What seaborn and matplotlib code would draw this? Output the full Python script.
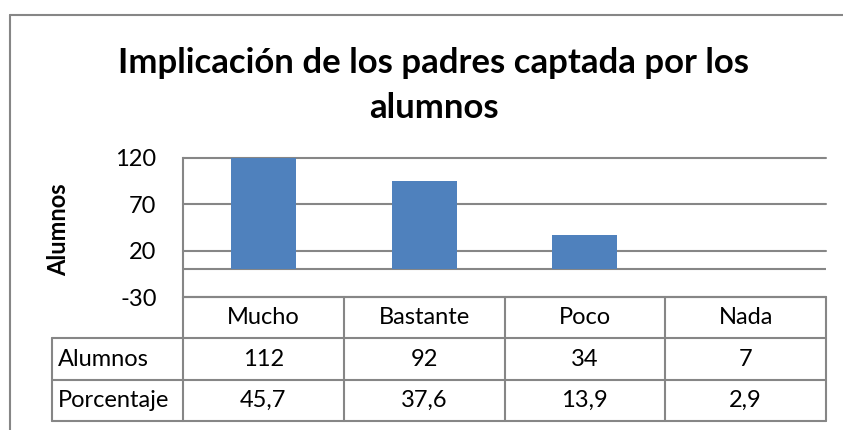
import pandas as pd
import seaborn as sns
import matplotlib.pyplot as plt
from matplotlib.lines import Line2D

categorias = ['Mucho', 'Bastante', 'Poco', 'Nada']
alumnos = [112, 92, 34, 7]
porcentaje = [45.7, 37.6, 13.9, 2.9]
# bar heights as they are drawn in the picture (top one runs past the axis max)
barras = [120, 95, 37, 0]
yticks = [-30, 20, 70, 120]
titulo = ['Implicación de los padres captada por los', 'alumnos']

W, H = 843, 430
gris = '#868686'
azul = '#4F81BD'
fs = 17

sns.set_theme(style='white')
plt.rcParams['font.family'] = ['Lato', 'DejaVu Sans']


def caja(x0, y0, x1, y1):
    # pixel box (top-left origin) -> figure fraction
    return [x0 / W, 1 - y1 / H, (x1 - x0) / W, (y1 - y0) / H]


fig = plt.figure(figsize=(W / 100, H / 100), dpi=100)

# chart area border (runs off the right and bottom of the picture)
fig.add_artist(Line2D([10 / W, 10 / W], [0, 1 - 15 / H], color=gris, lw=1.5))
fig.add_artist(Line2D([10 / W, 1], [1 - 15 / H, 1 - 15 / H], color=gris, lw=1.5))

fig.text(434 / W, 1 - 73 / H, titulo[0], ha='center', va='baseline',
         fontsize=25, fontweight='bold', color='black')
fig.text(434 / W, 1 - 118 / H, titulo[1], ha='center', va='baseline',
         fontsize=25, fontweight='bold', color='black')

# bars
ax = fig.add_axes(caja(183, 158, 826, 297))
df = pd.DataFrame({'cat': categorias, 'valor': barras})
for t in yticks:
    ax.axhline(t, color=gris, lw=1.5, zorder=0, clip_on=False)
ax.axhline(0, color=gris, lw=1.5, zorder=0)
sns.barplot(data=df, x='cat', y='valor', color=azul, width=0.405,
            saturation=1, linewidth=0, ax=ax, zorder=2)
ax.set_ylim(-30, 120)
ax.set_xlim(-0.5, 3.5)
ax.set_yticks(yticks)
ax.set_yticklabels([str(t) for t in yticks], fontsize=fs, color='black')
ax.tick_params(axis='y', length=0, pad=19)
ax.set_xticks([])
ax.set_xlabel('')
ax.set_ylabel('')
for s in ['top', 'right', 'bottom']:
    ax.spines[s].set_visible(False)
ax.spines['left'].set_color(gris)
ax.spines['left'].set_linewidth(1.5)
ax.patch.set_alpha(0)

fig.text(59 / W, 1 - 230 / H, 'Alumnos', rotation=90, ha='center', va='center',
         fontsize=fs, fontweight='bold', color='black')

# data table
tx = fig.add_axes(caja(52, 297, 826, 421))
xl = -0.5 - 131 / 160.75
tx.set_xlim(xl, 3.5)
tx.set_ylim(3, 0)
tx.axis('off')
n = len(categorias)
tx.plot([-0.5, n - 0.5], [0, 0], color=gris, lw=1.5, clip_on=False)
for r in [1, 2, 3]:
    tx.plot([xl, n - 0.5], [r, r], color=gris, lw=1.5, clip_on=False)
for i in range(n + 1):
    tx.plot([i - 0.5, i - 0.5], [0, 3], color=gris, lw=1.5, clip_on=False)
tx.plot([xl, xl], [1, 3], color=gris, lw=1.5, clip_on=False)

for i, c in enumerate(categorias):
    tx.text(i, 0.5, c, ha='center', va='center', fontsize=fs, color='black')
    tx.text(i, 1.5, str(alumnos[i]), ha='center', va='center', fontsize=fs, color='black')
    tx.text(i, 2.5, f'{porcentaje[i]:.1f}'.replace('.', ','), ha='center',
            va='center', fontsize=fs, color='black')
tx.text(xl + 0.035, 1.5, 'Alumnos', ha='left', va='center', fontsize=fs, color='black')
tx.text(xl + 0.035, 2.5, 'Porcentaje', ha='left', va='center', fontsize=fs, color='black')

fig.savefig('out.png', dpi=100)
